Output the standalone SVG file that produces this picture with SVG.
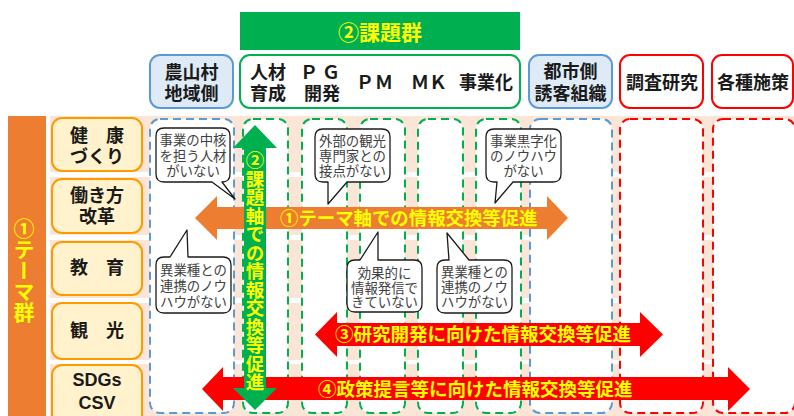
<svg xmlns="http://www.w3.org/2000/svg" width="794" height="416" viewBox="0 0 794 416">
<style>
.jp{font-family:"Noto Sans CJK JP","Noto Sans",sans-serif}
.hd{font-family:"Noto Sans CJK JP","Noto Sans",sans-serif;font-weight:700;font-size:18px;fill:#1a1a1a;text-anchor:middle}
.lt{font-family:"Liberation Sans",Arial,sans-serif;font-weight:700;font-size:18px;fill:#1a1a1a;text-anchor:middle}
.cb{font-family:"Noto Sans CJK JP","Noto Sans",sans-serif;font-size:13.4px;fill:#404040;text-anchor:middle}
.ya{font-family:"Noto Sans CJK JP","Noto Sans",sans-serif;font-weight:700;fill:#FFFF00}
.row{fill:#FBE5D6}
.theme{fill:#FFF2CC;stroke:#FF9900;stroke-width:2}
.col{fill:#ffffff;stroke-width:2;stroke-dasharray:8 5}
.bl{stroke:#5B9BD5}
.gr{stroke:#00B050}
.rd{stroke:#FF0000}
.bub{fill:#ffffff;stroke:#1a1a1a;stroke-width:1.3;stroke-linejoin:round}
</style>

<!-- background rows -->
<g id="rows">
<rect class="row" x="50" y="116" width="744" height="56"/>
<rect class="row" x="50" y="177" width="744" height="58"/>
<rect class="row" x="50" y="240" width="744" height="58"/>
<rect class="row" x="50" y="303" width="744" height="57"/>
<rect class="row" x="50" y="364" width="744" height="52"/>
</g>

<!-- theme group bar -->
<g id="theme-group">
<rect x="8" y="116" width="38" height="300" fill="#ED7D31"/>
<text class="ya" x="24" y="218" font-size="21" style="writing-mode:vertical-rl">①テーマ群</text>
</g>

<!-- theme boxes -->
<g id="theme-health">
<rect class="theme" x="52" y="118" width="90" height="53" rx="10"/>
<text class="hd" x="97" y="141.5">健　康</text>
<text class="hd" x="97" y="162.5">づくり</text>
</g>
<g id="theme-work">
<rect class="theme" x="52" y="179" width="90" height="54" rx="10"/>
<text class="hd" x="97" y="202">働き方</text>
<text class="hd" x="97" y="223">改革</text>
</g>
<g id="theme-edu">
<rect class="theme" x="52" y="242" width="90" height="53" rx="10"/>
<text class="hd" x="97" y="273.5">教　育</text>
</g>
<g id="theme-tour">
<rect class="theme" x="52" y="303" width="90" height="56" rx="10"/>
<text class="hd" x="97" y="337">観　光</text>
</g>
<g id="theme-sdgs">
<rect class="theme" x="52" y="365" width="90" height="60" rx="10"/>
<text class="lt" x="97" y="386">SDGs</text>
<text class="lt" x="97" y="408.5">CSV</text>
</g>

<!-- header -->
<g id="issue-banner">
<rect x="240" y="12" width="280" height="38" fill="#00B050"/>
<text class="ya" x="380" y="39.5" font-size="21" text-anchor="middle">②課題群</text>
</g>
<g id="hdr-rural">
<rect x="150" y="55" width="83" height="53" rx="10" fill="#DEEBF7" stroke="#5B9BD5" stroke-width="2"/>
<text class="hd" x="191.5" y="78.5">農山村</text>
<text class="hd" x="191.5" y="100.3">地域側</text>
</g>
<g id="hdr-issues">
<rect x="240" y="55" width="280" height="53" rx="10" fill="#ffffff" stroke="#00B050" stroke-width="2"/>
<text class="hd" x="268" y="78.5">人材</text>
<text class="hd" x="268" y="100.3">育成</text>
<text class="hd" x="322" y="78.5" letter-spacing="4">ＰＧ</text>
<text class="hd" x="322" y="100.3">開発</text>
<text class="hd" x="375" y="89" letter-spacing="1">ＰＭ</text>
<text class="hd" x="429" y="89">ＭＫ</text>
<text class="hd" x="486" y="89">事業化</text>
</g>
<g id="hdr-urban">
<rect x="529" y="55" width="83" height="53" rx="10" fill="#DEEBF7" stroke="#5B9BD5" stroke-width="2"/>
<text class="hd" x="570.5" y="78">都市側</text>
<text class="hd" x="570.5" y="100">誘客組織</text>
</g>
<g id="hdr-research">
<rect x="620" y="55" width="83" height="53" rx="10" fill="#ffffff" stroke="#FF0000" stroke-width="2"/>
<text class="hd" x="662" y="89">調査研究</text>
</g>
<g id="hdr-policy">
<rect x="712" y="55" width="81" height="53" rx="10" fill="#ffffff" stroke="#FF0000" stroke-width="2"/>
<text class="hd" x="753" y="89">各種施策</text>
</g>

<!-- columns -->
<g id="columns">
<rect class="col bl" x="150" y="119" width="84" height="294" rx="10"/>
<rect class="col gr" x="243" y="119" width="45" height="294" rx="10"/>
<rect class="col gr" x="302" y="119" width="45" height="294" rx="10"/>
<rect class="col gr" x="360" y="119" width="45" height="294" rx="10"/>
<rect class="col gr" x="418" y="119" width="45" height="294" rx="10"/>
<rect class="col gr" x="476" y="119" width="45" height="294" rx="10"/>
<rect class="col bl" x="530" y="119" width="82" height="294" rx="10"/>
<rect class="col rd" x="620" y="119" width="83" height="294" rx="10"/>
<rect class="col rd" x="713" y="119" width="82" height="294" rx="10"/>
</g>

<!-- callouts -->
<g id="note-core-staff">
<path class="bub" d="M164,128 H222 Q230,128 230,136 V174 Q230,182 222,182 L235,199 L212,182 H164 Q156,182 156,174 V136 Q156,128 164,128 Z"/>
<text class="cb" x="193" y="145">事業の中核</text>
<text class="cb" x="193" y="160.5">を担う人材</text>
<text class="cb" x="193" y="176">がいない</text>
</g>
<g id="note-tourism">
<path class="bub" d="M323,129 H382 Q390,129 390,137 V174 Q390,182 382,182 H347 L328,204 L328,182 H323 Q315,182 315,174 V137 Q315,129 323,129 Z"/>
<text class="cb" x="352.5" y="146">外部の観光</text>
<text class="cb" x="352.5" y="161">専門家との</text>
<text class="cb" x="352.5" y="176">接点がない</text>
</g>
<g id="note-profit">
<path class="bub" d="M494,129 H553 Q561,129 561,137 V174 Q561,182 553,182 H513 L495,203 L497,182 H494 Q486,182 486,174 V137 Q486,129 494,129 Z"/>
<text class="cb" x="523.5" y="146">事業黒字化</text>
<text class="cb" x="523.5" y="161">のノウハウ</text>
<text class="cb" x="523.5" y="176">がない</text>
</g>
<g id="note-collab-1">
<path class="bub" d="M164,257 H170 L187,230 L188,257 H223 Q231,257 231,265 V305 Q231,313 223,313 H164 Q156,313 156,305 V265 Q156,257 164,257 Z"/>
<text class="cb" x="193.5" y="275">異業種との</text>
<text class="cb" x="193.5" y="291">連携のノウ</text>
<text class="cb" x="193.5" y="306.5">ハウがない</text>
</g>
<g id="note-pr">
<path class="bub" d="M355,260 H360 L378,232 L378,260 H414 Q422,260 422,268 V304 Q422,312 414,312 H355 Q347,312 347,304 V268 Q347,260 355,260 Z"/>
<text class="cb" x="384.5" y="278">効果的に</text>
<text class="cb" x="384.5" y="292.5">情報発信で</text>
<text class="cb" x="384.5" y="307">きていない</text>
</g>
<g id="note-collab-2">
<path class="bub" d="M445,260 H449 L447,233 L469,260 H504 Q512,260 512,268 V305 Q512,313 504,313 H445 Q437,313 437,305 V268 Q437,260 445,260 Z"/>
<text class="cb" x="474.5" y="277">異業種との</text>
<text class="cb" x="474.5" y="291.5">連携のノウ</text>
<text class="cb" x="474.5" y="306.5">ハウがない</text>
</g>

<!-- connectors (arrows) -->
<g id="connectors">
<polygon points="195,218 217,196 217,207 547,207 547,196 568,218 547,240 547,229 217,229 217,240" fill="#ED7D31"/>
<text class="ya" x="280" y="224.8" font-size="18.4">①テーマ軸での情報交換等促進</text>
<polygon points="315,334.5 337,312 337,323 640,323 640,312 663,334.5 640,357 640,346 337,346 337,357" fill="#FF0000"/>
<text class="ya" x="335" y="341.3" font-size="18.5">③研究開発に向けた情報交換等促進</text>
<polygon points="202,389 223,367 223,377 728,377 728,367 750,389 728,411 728,400 223,400 223,411" fill="#FF0000"/>
<text class="ya" x="318" y="395.6" font-size="18.5">④政策提言等に向けた情報交換等促進</text>
<polygon points="255,125 277,148 266,148 266,388 277,388 255,410 233,388 244,388 244,148 233,148" fill="#00B050"/>
<text class="ya" x="255" y="151" font-size="18.5" style="writing-mode:vertical-rl">②課題軸での情報交換等促進</text>
</g>
</svg>
